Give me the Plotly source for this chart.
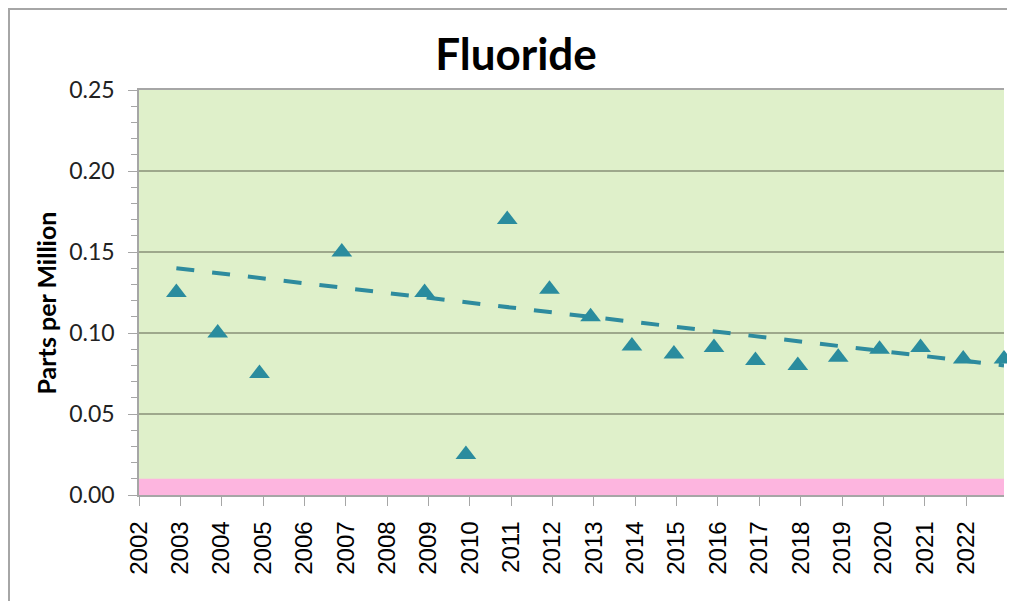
import numpy as np
import pandas as pd
import plotly.graph_objects as go

# ---- data ----
sample_dates = ["2002-11-27", "2003-11-27", "2004-11-30", "2006-11-27", "2008-11-27",
                "2009-11-27", "2010-11-27", "2011-12-05", "2012-12-02", "2013-12-02",
                "2014-12-08", "2015-11-27", "2016-11-27", "2017-12-06", "2018-11-28",
                "2019-11-28", "2020-11-24", "2021-12-06", "2022-12-01"]
fluoride_ppm = [0.125, 0.100, 0.075, 0.150, 0.125,
                0.025, 0.170, 0.127, 0.110, 0.092,
                0.087, 0.091, 0.083, 0.080, 0.085,
                0.090, 0.091, 0.084, 0.084]
# trend line end values as drawn in the chart (first and last sample dates)
trend_values = [0.140, 0.080]
pink_level = 0.01
x_start = "2002-01-01"
y_ticks = [0.00, 0.05, 0.10, 0.15, 0.20, 0.25]
y_tick_labels = ["0.00", "0.05", "0.10", "0.15", "0.20", "0.25"]

teal = "#2A8C9E"

dates = pd.to_datetime(sample_dates)
trend_x = [dates[0], dates[-1]]

fig = go.Figure()

fig.add_trace(go.Scatter(
    x=trend_x, y=trend_values, mode="lines",
    line=dict(color="#2E8B9E", width=4, dash="18px,18px"),
    hoverinfo="skip", showlegend=False))

fig.add_trace(go.Scatter(
    x=dates, y=fluoride_ppm, mode="markers",
    marker=dict(symbol="triangle-up", size=18, color=teal),
    cliponaxis=False, showlegend=False))

# pink band
fig.add_shape(type="rect", xref="paper", yref="y", x0=0, x1=1, y0=0, y1=pink_level,
              fillcolor="#FDB5DF", line=dict(width=0), layer="below")

# outer chart border (top + left)
fig.add_shape(type="line", xref="paper", yref="paper",
              xsizemode="pixel", ysizemode="pixel", xanchor=0, yanchor=1,
              x0=-130, x1=1000, y0=81, y1=81,
              line=dict(color="#A6A6A6", width=2), layer="above")
fig.add_shape(type="line", xref="paper", yref="paper",
              xsizemode="pixel", ysizemode="pixel", xanchor=0, yanchor=1,
              x0=-130, x1=-130, y0=82, y1=-700,
              line=dict(color="#A6A6A6", width=2), layer="above")

# y-axis title
fig.add_annotation(text="<b>Parts per Million</b>", textangle=-90,
                   xref="paper", yref="paper", x=0, y=0.5,
                   xanchor="center", yanchor="middle", xshift=-94, yshift=-11,
                   showarrow=False, font=dict(family="Lato", size=25, color="black"))

fig.update_layout(
    width=1015, height=601,
    margin=dict(l=131, r=19, t=82, b=114, autoexpand=False),
    paper_bgcolor="white",
    plot_bgcolor="#DFF0CA",
    title=dict(text="<b>Fluoride</b>", x=508 / 1015, xref="container", xanchor="center",
               y=1 - 47 / 601, yref="container", yanchor="middle",
               font=dict(family="Lato", size=44, color="black")),
    showlegend=False,
)

fig.update_xaxes(
    type="date", automargin=False,
    range=[x_start, dates[-1]],
    tick0=x_start, dtick="M12", tickformat="%Y",
    tickangle=-90,
    ticks="outside", ticklen=9, tickcolor="#A6A6A6", tickwidth=1,
    tickfont=dict(family="Liberation Sans", size=24, color="black"),
    ticklabelstandoff=6,
    showgrid=False, showline=True, linecolor="#A6A6A6", linewidth=1.5,
    mirror=True, zeroline=False,
)

fig.update_yaxes(
    range=[0, 0.25], automargin=False,
    tickvals=y_ticks, ticktext=y_tick_labels,
    ticks="outside", ticklen=9, tickcolor="#A6A6A6", tickwidth=1,
    minor=dict(dtick=0.01, ticks="outside", ticklen=6, tickcolor="#A6A6A6", showgrid=False),
    tickfont=dict(family="Lato", size=23, color="#222222"),
    ticklabelstandoff=9,
    showgrid=True, gridcolor="#9EA88C", gridwidth=1.5,
    showline=True, linecolor="#A6A6A6", linewidth=1.5,
    zeroline=False,
)

fig.write_html("out.html")
